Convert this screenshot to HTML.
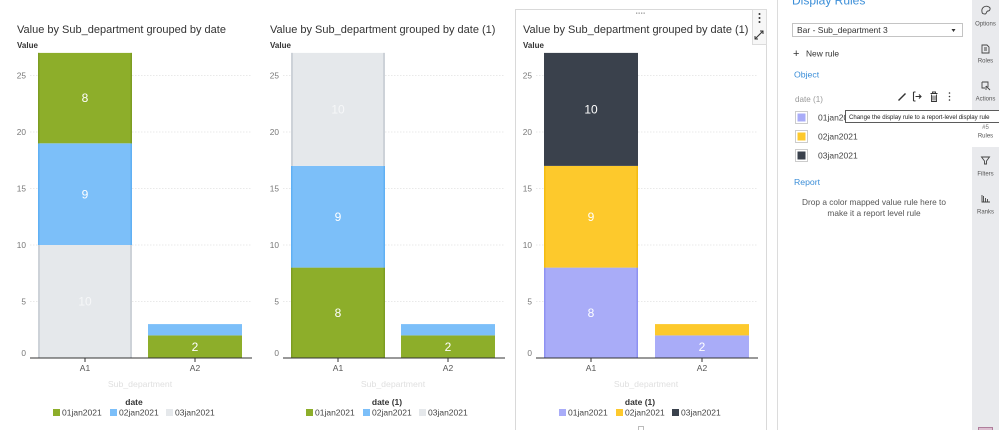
<!DOCTYPE html>
<html><head><meta charset="utf-8"><style>
html,body{margin:0;padding:0;background:#fff;}
svg{display:block;font-family:"Liberation Sans",sans-serif;}
</style></head><body>
<svg width="999" height="430" viewBox="0 0 999 430" xmlns="http://www.w3.org/2000/svg">
<rect width="999" height="430" fill="#fff"/>

<!-- Chart 3 panel -->
<rect x="515.5" y="9.5" width="251" height="430" fill="#fff" stroke="#d9d9d9"/>
<rect x="752.5" y="9.5" width="14" height="35" fill="#f7f7f7" stroke="#dcdcdc"/>
<circle cx="759.5" cy="14" r="1" fill="#333"/><circle cx="759.5" cy="18" r="1" fill="#333"/><circle cx="759.5" cy="22" r="1" fill="#333"/>
<path d="M755 39 L763 31 M760 31 L763 31 L763 34 M755 36 L755 39 L758 39" stroke="#333" stroke-width="1" fill="none"/>
<g fill="#999"><rect x="636" y="12.5" width="1.3" height="1.3"/><rect x="638.5" y="12.5" width="1.3" height="1.3"/><rect x="641" y="12.5" width="1.3" height="1.3"/><rect x="643.5" y="12.5" width="1.3" height="1.3"/></g>
<rect x="638.5" y="426.5" width="5" height="5" fill="#fff" stroke="#bbb"/>

<!-- ============ CHART 1 ============ -->
<text x="17" y="33" font-size="11" fill="#333">Value by Sub_department grouped by date</text>
<text x="17" y="48" font-size="8" font-weight="bold" fill="#333">Value</text>
<g stroke="#e2e2e2" stroke-dasharray="1.5,1.5" stroke-width="0.8">
<line x1="30" x2="252" y1="75.5" y2="75.5"/><line x1="30" x2="252" y1="132" y2="132"/><line x1="30" x2="252" y1="188.5" y2="188.5"/><line x1="30" x2="252" y1="245" y2="245"/><line x1="30" x2="252" y1="301.5" y2="301.5"/>
</g>
<g font-size="8.3" fill="#777" text-anchor="end">
<text x="26" y="78.5">25</text><text x="26" y="135">20</text><text x="26" y="191.5">15</text><text x="26" y="248">10</text><text x="26" y="304.5">5</text><text x="26" y="356">0</text>
</g>
<rect x="38" y="245" width="94" height="113" fill="#e5e8eb"/>
<rect x="38" y="245" width="2" height="113" fill="#cdd2d8"/><rect x="130" y="245" width="2" height="113" fill="#cdd2d8"/>
<rect x="38" y="143.3" width="94" height="101.7" fill="#7cbff9"/>
<rect x="38" y="143.3" width="1.5" height="101.7" fill="#60b0f4"/><rect x="130.5" y="143.3" width="1.5" height="101.7" fill="#60b0f4"/>
<rect x="38" y="52.9" width="94" height="90.4" fill="#8dae2a"/>
<rect x="38" y="52.9" width="1.5" height="90.4" fill="#7d9d22"/><rect x="130.5" y="52.9" width="1.5" height="90.4" fill="#7d9d22"/>
<rect x="148" y="335.4" width="94" height="22.6" fill="#8dae2a"/>
<rect x="148" y="324.1" width="94" height="11.3" fill="#7cbff9"/>
<g font-size="12" fill="#fff" text-anchor="middle">
<text x="85" y="102">8</text><text x="85" y="198.5">9</text><text x="85" y="305.5" fill="#f6f7f8">10</text><text x="195" y="351">2</text>
</g>
<line x1="30" x2="252" y1="358" y2="358" stroke="#333" stroke-width="1"/>
<line x1="85" x2="85" y1="358" y2="362" stroke="#333"/><line x1="195" x2="195" y1="358" y2="362" stroke="#333"/>
<g font-size="8.5" fill="#555" text-anchor="middle"><text x="85" y="371">A1</text><text x="195" y="371">A2</text></g>
<text x="140" y="387" font-size="8.7" fill="#e0e0e0" text-anchor="middle">Sub_department</text>
<text x="134" y="405" font-size="8.5" font-weight="bold" fill="#333" text-anchor="middle">date</text>
<rect x="53" y="409" width="7" height="7" fill="#8dae2a"/><text x="62" y="415.5" font-size="8.5" fill="#444">01jan2021</text>
<rect x="110" y="409" width="7" height="7" fill="#7cbff9"/><text x="119" y="415.5" font-size="8.5" fill="#444">02jan2021</text>
<rect x="166" y="409" width="7" height="7" fill="#e5e8eb"/><text x="175" y="415.5" font-size="8.5" fill="#444">03jan2021</text>

<!-- ============ CHART 2 ============ -->
<text x="270" y="33" font-size="11" fill="#333">Value by Sub_department grouped by date (1)</text>
<text x="270" y="48" font-size="8" font-weight="bold" fill="#333">Value</text>
<g stroke="#e2e2e2" stroke-dasharray="1.5,1.5" stroke-width="0.8">
<line x1="283" x2="505" y1="75.5" y2="75.5"/><line x1="283" x2="505" y1="132" y2="132"/><line x1="283" x2="505" y1="188.5" y2="188.5"/><line x1="283" x2="505" y1="245" y2="245"/><line x1="283" x2="505" y1="301.5" y2="301.5"/>
</g>
<g font-size="8.3" fill="#777" text-anchor="end">
<text x="279" y="78.5">25</text><text x="279" y="135">20</text><text x="279" y="191.5">15</text><text x="279" y="248">10</text><text x="279" y="304.5">5</text><text x="279" y="356">0</text>
</g>
<rect x="291" y="267.6" width="94" height="90.4" fill="#8dae2a"/>
<rect x="291" y="267.6" width="1.5" height="90.4" fill="#7d9d22"/><rect x="383.5" y="267.6" width="1.5" height="90.4" fill="#7d9d22"/>
<rect x="291" y="165.9" width="94" height="101.7" fill="#7cbff9"/>
<rect x="291" y="165.9" width="1.5" height="101.7" fill="#60b0f4"/><rect x="383.5" y="165.9" width="1.5" height="101.7" fill="#60b0f4"/>
<rect x="291" y="52.9" width="94" height="113" fill="#e5e8eb"/>
<rect x="291" y="52.9" width="2" height="113" fill="#cdd2d8"/><rect x="383" y="52.9" width="2" height="113" fill="#cdd2d8"/>
<rect x="401" y="335.4" width="94" height="22.6" fill="#8dae2a"/>
<rect x="401" y="324.1" width="94" height="11.3" fill="#7cbff9"/>
<g font-size="12" fill="#fff" text-anchor="middle">
<text x="338" y="317">8</text><text x="338" y="221">9</text><text x="338" y="113.5" fill="#f6f7f8">10</text><text x="448" y="351">2</text>
</g>
<line x1="283" x2="505" y1="358" y2="358" stroke="#333" stroke-width="1"/>
<line x1="338" x2="338" y1="358" y2="362" stroke="#333"/><line x1="448" x2="448" y1="358" y2="362" stroke="#333"/>
<g font-size="8.5" fill="#555" text-anchor="middle"><text x="338" y="371">A1</text><text x="448" y="371">A2</text></g>
<text x="393" y="387" font-size="8.7" fill="#e0e0e0" text-anchor="middle">Sub_department</text>
<text x="387" y="405" font-size="8.5" font-weight="bold" fill="#333" text-anchor="middle">date (1)</text>
<rect x="306" y="409" width="7" height="7" fill="#8dae2a"/><text x="315" y="415.5" font-size="8.5" fill="#444">01jan2021</text>
<rect x="363" y="409" width="7" height="7" fill="#7cbff9"/><text x="372" y="415.5" font-size="8.5" fill="#444">02jan2021</text>
<rect x="419" y="409" width="7" height="7" fill="#e5e8eb"/><text x="428" y="415.5" font-size="8.5" fill="#444">03jan2021</text>

<!-- ============ CHART 3 ============ -->
<text x="523" y="33" font-size="11" fill="#333">Value by Sub_department grouped by date (1)</text>
<text x="523" y="48" font-size="8" font-weight="bold" fill="#333">Value</text>
<g stroke="#e2e2e2" stroke-dasharray="1.5,1.5" stroke-width="0.8">
<line x1="536" x2="758" y1="75.5" y2="75.5"/><line x1="536" x2="758" y1="132" y2="132"/><line x1="536" x2="758" y1="188.5" y2="188.5"/><line x1="536" x2="758" y1="245" y2="245"/><line x1="536" x2="758" y1="301.5" y2="301.5"/>
</g>
<g font-size="8.3" fill="#777" text-anchor="end">
<text x="532" y="78.5">25</text><text x="532" y="135">20</text><text x="532" y="191.5">15</text><text x="532" y="248">10</text><text x="532" y="304.5">5</text><text x="532" y="356">0</text>
</g>
<rect x="544" y="267.6" width="94" height="90.4" fill="#a9acf8"/>
<rect x="544" y="267.6" width="1.5" height="90.4" fill="#8e92f2"/><rect x="636.5" y="267.6" width="1.5" height="90.4" fill="#8e92f2"/>
<rect x="544" y="165.9" width="94" height="101.7" fill="#fdc92c"/>
<rect x="544" y="165.9" width="1.5" height="101.7" fill="#f3bc12"/><rect x="636.5" y="165.9" width="1.5" height="101.7" fill="#f3bc12"/>
<rect x="544" y="52.9" width="94" height="113" fill="#3a414c"/>
<rect x="655" y="335.4" width="94" height="22.6" fill="#a9acf8"/>
<rect x="655" y="324.1" width="94" height="11.3" fill="#fdc92c"/>
<g font-size="12" fill="#fff" text-anchor="middle">
<text x="591" y="317">8</text><text x="591" y="221">9</text><text x="591" y="113.5">10</text><text x="702" y="351">2</text>
</g>
<line x1="536" x2="758" y1="358" y2="358" stroke="#333" stroke-width="1"/>
<line x1="591" x2="591" y1="358" y2="362" stroke="#333"/><line x1="702" x2="702" y1="358" y2="362" stroke="#333"/>
<g font-size="8.5" fill="#555" text-anchor="middle"><text x="591" y="371">A1</text><text x="702" y="371">A2</text></g>
<text x="646" y="387" font-size="8.7" fill="#e0e0e0" text-anchor="middle">Sub_department</text>
<text x="640" y="405" font-size="8.5" font-weight="bold" fill="#333" text-anchor="middle">date (1)</text>
<rect x="559" y="409" width="7" height="7" fill="#a9acf8"/><text x="568" y="415.5" font-size="8.5" fill="#444">01jan2021</text>
<rect x="616" y="409" width="7" height="7" fill="#fdc92c"/><text x="625" y="415.5" font-size="8.5" fill="#444">02jan2021</text>
<rect x="672" y="409" width="7" height="7" fill="#3a414c"/><text x="681" y="415.5" font-size="8.5" fill="#444">03jan2021</text>

<!-- ============ RIGHT PANEL ============ -->
<line x1="777.5" x2="777.5" y1="0" y2="430" stroke="#dcdcdc"/>
<text x="792" y="4.5" font-size="12" fill="#3b8ed8">Display Rules</text>
<rect x="792.5" y="23.5" width="170" height="13" fill="#fff" stroke="#c4c4c4"/>
<text x="797" y="33" font-size="8.5" fill="#333">Bar - Sub_department 3</text>
<path d="M951.5 29 L955.5 29 L953.5 32 Z" fill="#333"/>
<text x="793" y="57" font-size="11" fill="#333">+</text>
<text x="806" y="56.5" font-size="8.4" fill="#333">New rule</text>
<text x="794" y="77.5" font-size="8.7" fill="#3b8ed8">Object</text>
<text x="795" y="102" font-size="8.1" fill="#999">date (1)</text>
<path d="M898 100 L903 95 L905 93 L906 94 L904 96 L899 101 Z" fill="#333"/>
<path d="M913.5 92 L913.5 101 M913.5 92 L915.5 92 M913.5 101 L915.5 101 M915.5 96.5 L921 96.5 M919 94.5 L921 96.5 L919 98.5" stroke="#333" stroke-width="1.1" fill="none"/>
<path d="M930.5 93.5 L937.5 93.5 M932.5 93.5 L932.5 92 L935.5 92 L935.5 93.5 M931.5 94.5 L931.5 101.5 L936.5 101.5 L936.5 94.5 M933 95.5 L933 100.5 M935 95.5 L935 100.5" stroke="#333" stroke-width="0.9" fill="none"/>
<circle cx="949.5" cy="93" r="0.8" fill="#333"/><circle cx="949.5" cy="96.5" r="0.8" fill="#333"/><circle cx="949.5" cy="100" r="0.8" fill="#333"/>
<rect x="795.5" y="111.5" width="12" height="12" fill="#fff" stroke="#ccc"/><rect x="797.5" y="113.5" width="8" height="8" fill="#a9acf8"/>
<text x="818" y="120.5" font-size="8.5" fill="#444">01jan2021</text>
<rect x="795.5" y="130.5" width="12" height="12" fill="#fff" stroke="#ccc"/><rect x="797.5" y="132.5" width="8" height="8" fill="#fdc92c"/>
<text x="818" y="139.5" font-size="8.5" fill="#444">02jan2021</text>
<rect x="795.5" y="149.5" width="12" height="12" fill="#fff" stroke="#ccc"/><rect x="797.5" y="151.5" width="8" height="8" fill="#3a414c"/>
<text x="818" y="158.5" font-size="8.5" fill="#444">03jan2021</text>
<text x="794" y="185" font-size="8.7" fill="#3b8ed8">Report</text>
<text x="874" y="205" font-size="8.3" fill="#555" text-anchor="middle">Drop a color mapped value rule here to</text>
<text x="874" y="216" font-size="8.3" fill="#555" text-anchor="middle">make it a report level rule</text>

<rect x="972" y="0" width="27" height="430" fill="#e9eaed"/>
<rect x="972" y="110" width="27" height="37" fill="#fff"/>
<g font-size="6" fill="#555" text-anchor="middle">
<text x="985.5" y="25.5">Options</text>
<text x="985.5" y="62.5">Roles</text>
<text x="985.5" y="100.5">Actions</text>
<text x="985.5" y="137.5">Rules</text>
<text x="985.5" y="175.5">Filters</text>
<text x="985.5" y="213.5">Ranks</text>
<text x="985.5" y="129" fill="#777">#5</text>
</g>
<g stroke="#444" stroke-width="0.9" fill="none">
<path d="M982 12 C981 7 986 5 989 7 C991 8 990 11 988 11 C986 11 987 14 985 14 C983 14 982 13 982 12 Z"/>
<path d="M982 45 L987 45 L989 47 L989 53 L982 53 Z M984 48 L987 48 M984 50 L987 50"/>
<path d="M982 82 L988 82 L988 87 M982 82 L982 88 L985 88"/>
<path d="M986 86 L990 90 M986 86 L986 90"/>
<path d="M981.5 157 L989.5 157 L986.5 161 L986.5 164 L984.5 164 L984.5 161 Z"/>
<path d="M982 195 L982 202 L990 202 M983.5 202 L983.5 196 M985.5 202 L985.5 198 M987.5 202 L987.5 199"/>
</g>
<rect x="845.5" y="110.5" width="155" height="12" fill="#fff" stroke="#333" stroke-width="0.8"/>
<text x="849" y="119" font-size="6.1" fill="#222">Change the display rule to a report-level display rule</text>
<rect x="978.5" y="427.5" width="14" height="6" fill="#dcbfd0" stroke="#b07e9c"/>
</svg>
</body></html>
